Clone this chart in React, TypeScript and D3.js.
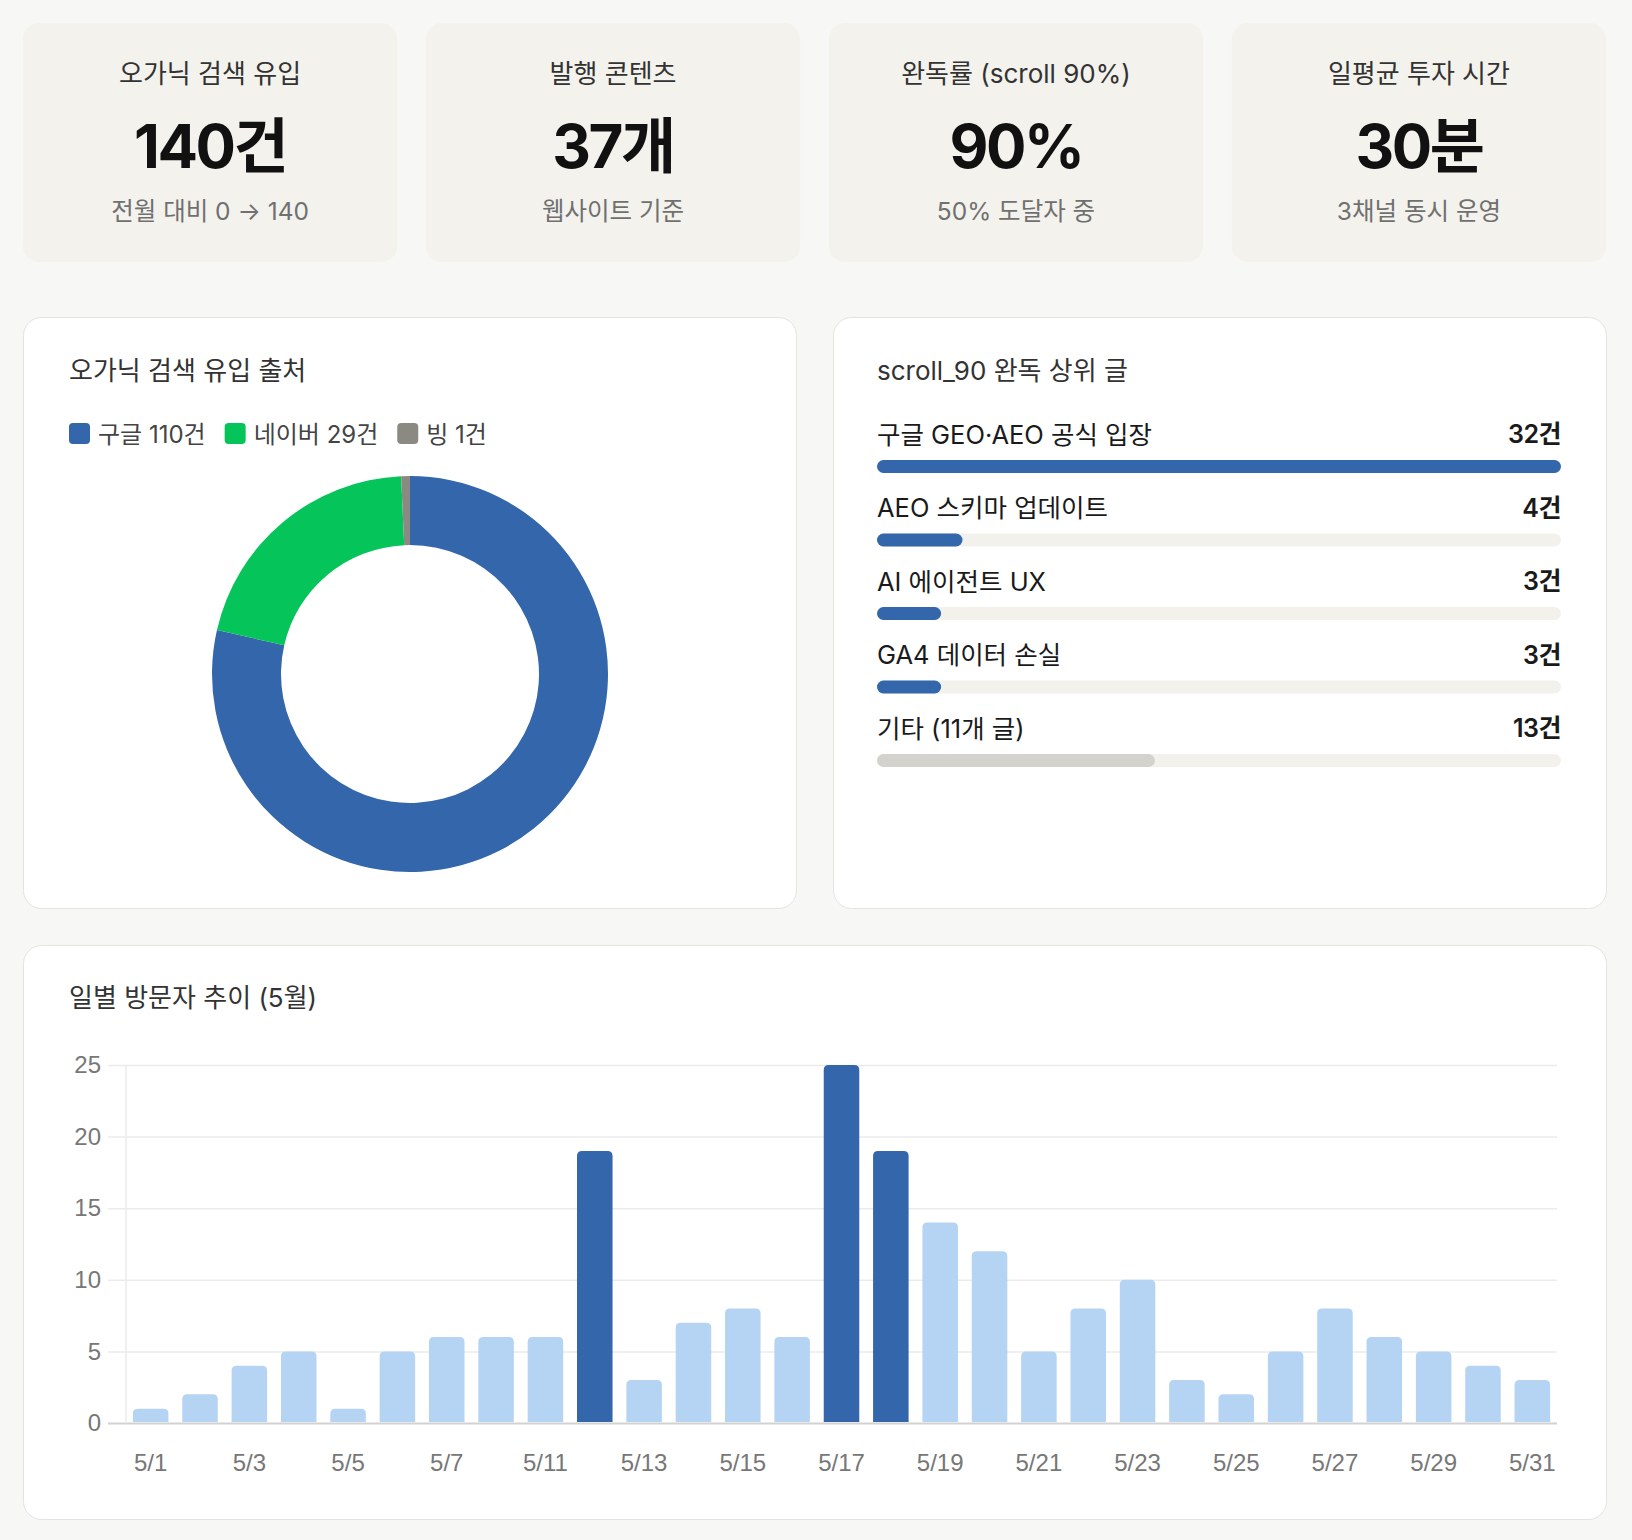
import React, { useEffect, useRef } from 'react';
import * as d3 from 'd3';

// KPI 카드
const kpiTitles = ['오가닉 검색 유입', '발행 콘텐츠', '완독률 (scroll 90%)', '일평균 투자 시간'];
const kpiValues = ['140건', '37개', '90%', '30분'];
const kpiSubs = ['전월 대비 0 → 140', '웹사이트 기준', '50% 도달자 중', '3채널 동시 운영'];

// 유입 출처
const sources = ['구글', '네이버', '빙'];
const sourceCounts = [110, 29, 1];
const sourceColors = ['#3366ab', '#05c45a', '#8a8a82'];

// 완독 상위 글
const posts = ['구글 GEO·AEO 공식 입장', 'AEO 스키마 업데이트', 'AI 에이전트 UX', 'GA4 데이터 손실', '기타 (11개 글)'];
const postCounts = [32, 4, 3, 3, 13];

// 일별 방문자
const days = [
  '5/1', '5/2', '5/3', '5/4', '5/5', '5/6', '5/7', '5/8',
  '5/11', '5/12', '5/13', '5/14', '5/15', '5/16', '5/17', '5/18', '5/19', '5/20',
  '5/21', '5/22', '5/23', '5/24', '5/25', '5/26', '5/27', '5/28', '5/29', '5/30', '5/31',
];
const visitors = [1, 2, 4, 5, 1, 5, 6, 6, 6, 19, 3, 7, 8, 6, 25, 19, 14, 12, 5, 8, 10, 3, 2, 5, 8, 6, 5, 4, 3];
const highlightDays = ['5/12', '5/17', '5/18'];

const W = 1632;
const H = 1540;
const FONT = "Inter, 'Noto Sans CJK KR', sans-serif";
const TICK_FONT = "'Liberation Sans', Arial, sans-serif";

function topRounded(x: number, y: number, w: number, h: number, r: number) {
  r = Math.min(r, h, w / 2);
  return `M${x},${y + h}V${y + r}Q${x},${y} ${x + r},${y}H${x + w - r}Q${x + w},${y} ${x + w},${y + r}V${y + h}Z`;
}

export default function App() {
  const ref = useRef<SVGSVGElement>(null);

  useEffect(() => {
    const svg = d3.select(ref.current);
    svg.selectAll('*').remove();
    svg.append('rect').attr('width', W).attr('height', H).attr('fill', '#f7f7f5');

    // ---- KPI 카드 ----
    const kx = d3.scaleBand<string>().domain(kpiTitles).range([23, 1606]).paddingInner(0.0715);
    const cards = svg.selectAll('g.kpi').data(kpiTitles).enter().append('g')
      .attr('transform', d => `translate(${kx(d)},23)`);
    cards.append('rect')
      .attr('width', kx.bandwidth()).attr('height', 239).attr('rx', 16)
      .attr('fill', '#f3f2ed');
    cards.append('text')
      .attr('x', kx.bandwidth() / 2).attr('y', 50)
      .attr('text-anchor', 'middle').attr('dominant-baseline', 'central')
      .attr('font-family', FONT).attr('font-size', 26).attr('fill', '#333')
      .text(d => d);
    cards.append('text')
      .attr('x', kx.bandwidth() / 2).attr('y', 123)
      .attr('text-anchor', 'middle').attr('dominant-baseline', 'central')
      .attr('font-family', FONT).attr('font-size', 60).attr('font-weight', 700)
      .attr('letter-spacing', -2.5).attr('fill', '#111')
      .text((d, i) => kpiValues[i]);
    cards.append('text')
      .attr('x', kx.bandwidth() / 2).attr('y', 188)
      .attr('text-anchor', 'middle').attr('dominant-baseline', 'central')
      .attr('font-family', FONT).attr('font-size', 24.5).attr('fill', '#707070')
      .text((d, i) => kpiSubs[i]);

    // ---- 패널 ----
    const panel = (x: number, y: number, w: number, h: number) =>
      svg.append('rect').attr('x', x + 0.5).attr('y', y + 0.5).attr('width', w).attr('height', h)
        .attr('rx', 18).attr('fill', '#fff').attr('stroke', '#e3e3e0');
    panel(23, 317, 773, 591);
    panel(833, 317, 773, 591);
    panel(23, 945, 1583, 574);

    const title = (x: number, y: number, t: string) =>
      svg.append('text').attr('x', x).attr('y', y).attr('dominant-baseline', 'central')
        .attr('font-family', FONT).attr('font-size', 26).attr('fill', '#333').text(t);

    // ---- 도넛 ----
    title(69, 370, '오가닉 검색 유입 출처');
    const legend = svg.append('g');
    let lx = 69;
    sources.forEach((s, i) => {
      legend.append('rect').attr('x', lx).attr('y', 423).attr('width', 21).attr('height', 21)
        .attr('rx', 4).attr('fill', sourceColors[i]);
      const t = legend.append('text').attr('x', lx + 29).attr('y', 434).attr('dominant-baseline', 'central')
        .attr('font-family', FONT).attr('font-size', 24).attr('fill', '#444')
        .text(`${s} ${sourceCounts[i]}건`);
      const len = (t.node() as SVGTextElement).getComputedTextLength();
      lx += 29 + len + 19;
    });

    const pie = d3.pie<number>().sort(null).value(d => d);
    const arc = d3.arc<d3.PieArcDatum<number>>().innerRadius(129).outerRadius(198);
    svg.append('g').attr('transform', 'translate(410,674)')
      .selectAll('path').data(pie(sourceCounts)).enter().append('path')
      .attr('d', arc).attr('fill', (d, i) => sourceColors[i]);

    // ---- 완독 상위 글 ----
    title(877, 370, 'scroll_90 완독 상위 글');
    const px = d3.scaleLinear().domain([0, d3.max(postCounts) as number]).range([0, 684]);
    const py = d3.scaleBand<string>().domain(posts).range([407, 407 + 73.5 * posts.length]);
    const rows = svg.selectAll('g.post').data(posts).enter().append('g')
      .attr('transform', d => `translate(877,${py(d)})`);
    rows.append('text').attr('x', 0).attr('y', 27).attr('dominant-baseline', 'central')
      .attr('font-family', FONT).attr('font-size', 25.5).attr('fill', '#1a1a1a').text(d => d);
    rows.append('text').attr('x', 684).attr('y', 27).attr('dominant-baseline', 'central')
      .attr('text-anchor', 'end').attr('font-family', FONT).attr('font-size', 25)
      .attr('font-weight', 600).attr('letter-spacing', -0.5).attr('fill', '#1a1a1a')
      .text((d, i) => `${postCounts[i]}건`);
    rows.append('rect').attr('x', 0).attr('y', 53).attr('width', 684).attr('height', 13)
      .attr('rx', 6.5).attr('fill', '#f2f1ec');
    rows.append('rect').attr('x', 0).attr('y', 53).attr('width', (d, i) => px(postCounts[i]))
      .attr('height', 13).attr('rx', 6.5)
      .attr('fill', (d, i) => (i === posts.length - 1 ? '#d3d2cc' : '#3366ab'));

    // ---- 일별 방문자 ----
    title(69, 997, '일별 방문자 추이 (5월)');
    const left = 126, right = 1557, top = 1065, bottom = 1423;
    const x = d3.scaleBand<string>().domain(days).range([left, right]).paddingInner(0.28).paddingOuter(0.14);
    const y = d3.scaleLinear().domain([0, 25]).range([bottom, top]);

    const yAxis = svg.append('g').attr('transform', `translate(108,0)`)
      .call(d3.axisLeft(y).ticks(5).tickSize(-(right - 108)).tickPadding(7));
    yAxis.select('.domain').remove();
    yAxis.selectAll('line').attr('stroke', '#ebebeb').attr('stroke-width', 1.5);
    yAxis.selectAll('.tick').filter((d: any) => d === 0).select('line')
      .attr('stroke', '#d2d2d2').attr('stroke-width', 2);
    yAxis.selectAll('text').attr('font-family', TICK_FONT).attr('font-size', 24).attr('fill', '#777');

    svg.append('line').attr('x1', left).attr('x2', left).attr('y1', top).attr('y2', bottom)
      .attr('stroke', '#ebebeb').attr('stroke-width', 1.5);

    svg.append('g').selectAll('path').data(days).enter().append('path')
      .attr('d', (d, i) => topRounded(x(d) as number, y(visitors[i]), x.bandwidth(), bottom - 1 - y(visitors[i]), 5))
      .attr('fill', d => (highlightDays.includes(d) ? '#3366ab' : '#b5d4f3'));

    const xAxis = svg.append('g').attr('transform', `translate(0,${bottom})`)
      .call(d3.axisBottom(x).tickValues(days.filter((d, i) => i % 2 === 0)).tickSize(0).tickPadding(31));
    xAxis.select('.domain').remove();
    xAxis.selectAll('text').attr('font-family', TICK_FONT).attr('font-size', 24).attr('fill', '#777');
  }, []);

  return (
    <svg ref={ref} width={W} height={H} style={{ position: 'absolute', left: 0, top: 0, display: 'block' }} />
  );
}
